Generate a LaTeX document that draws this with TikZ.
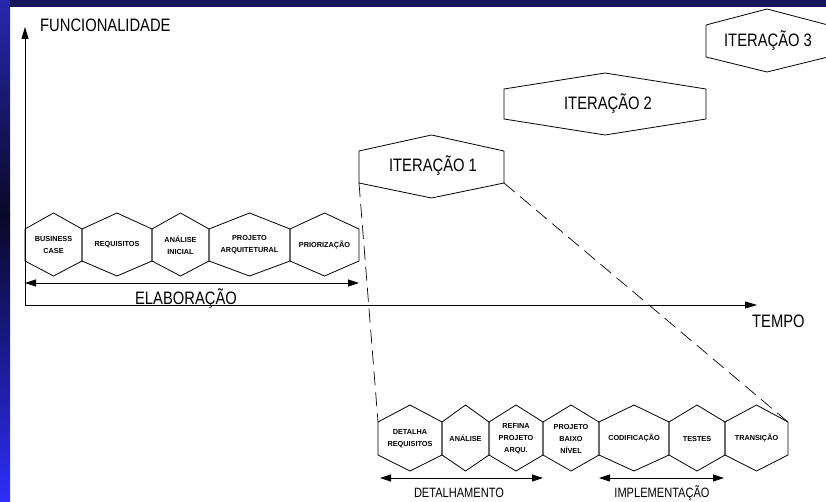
\documentclass[tikz,border=0pt]{standalone}
\usepackage{fontspec}
\setmainfont{Liberation Sans}
\newfontfamily\bigf[FakeStretch=0.82]{Liberation Sans}
\usetikzlibrary{arrows.meta}
\definecolor{navybar}{RGB}{22,22,88}
\definecolor{stripA}{RGB}{40,40,175}
\definecolor{stripB}{RGB}{8,8,40}
\definecolor{stripC}{RGB}{46,46,250}
\tikzset{
  hexline/.style={draw=black, line width=0.8pt, line join=miter},
  biglabel/.style={font=\bigf\fontsize{18}{20}\selectfont, inner sep=0pt, anchor=base},
  midlabel/.style={font=\bigf\fontsize{13.5}{15}\selectfont, inner sep=0pt, anchor=base},
  smalllabel/.style={font=\fontsize{7.3}{12}\selectfont\bfseries, align=center, inner sep=0pt},
  axisline/.style={line width=0.8pt, -{Triangle[length=12pt,width=7pt]}},
  spanline/.style={line width=0.8pt, {Triangle[length=11pt,width=7pt]}-{Triangle[length=11pt,width=7pt]}},
  linkline/.style={line width=0.7pt, dash pattern=on 14pt off 7pt},
}
% name, xl, xr, top vertex y, upper shoulder y, lower shoulder y, bottom vertex y, text
\newcommand{\hexcell}[8]{%
  \draw[hexline] (#2,#5) -- ({(#2+#3)/2},#4) -- (#3,#5) -- (#3,#6) -- ({(#2+#3)/2},#7) -- (#2,#6) -- cycle;
  \coordinate (#1-ul) at (#2,#5);
  \coordinate (#1-ur) at (#3,#5);
  \coordinate (#1-ll) at (#2,#6);
  \coordinate (#1-lr) at (#3,#6);
  \node[smalllabel] (#1) at ({(#2+#3)/2},{(#5+#6)/2}) {#8};
}
\begin{document}
\begin{tikzpicture}[x=1pt,y=-1pt]
\useasboundingbox (0,0) rectangle (826,502);
\fill[white] (0,0) rectangle (826,502);
% frame
\fill[navybar] (0,0) rectangle (826,7);
\shade[top color=stripA, bottom color=stripB] (0,0) rectangle (10,215);
\shade[top color=stripB, bottom color=stripC] (0,215) rectangle (10,502);

% axes
\coordinate (origin) at (25,305);
\coordinate (ytip) at (25,27);
\coordinate (xtip) at (757,305);
\draw[axisline] (origin) -- (ytip);
\draw[axisline] (origin) -- (xtip);
\node[biglabel, anchor=base west] (funcl) at (40,31.5) {FUNCIONALIDADE};
\node[biglabel, anchor=base west] (tempol) at (752,327) {TEMPO};

% elaboration row
\hexcell{bc}{25}{82}{213}{229}{261}{276}{BUSINESS\\CASE}
\hexcell{req}{82}{152}{213}{229}{261}{276}{REQUISITOS}
\hexcell{ana}{152}{209}{213}{229}{261}{276}{ANÁLISE\\INICIAL}
\hexcell{arq}{209}{290}{213}{229}{261}{276}{PROJETO\\ARQUITETURAL}
\hexcell{pri}{290}{359}{213}{229}{261}{276}{PRIORIZAÇÃO}
\coordinate (e1) at (25,283);
\coordinate (e2) at (359,283);
\draw[spanline] (e1) -- (e2);
\node[biglabel] (elab) at (186,304) {ELABORAÇÃO};

% iterations
\hexcell{itA}{359}{504}{135}{151}{183}{198}{}
\node[biglabel] (itAl) at (433,172) {ITERAÇÃO 1};
\hexcell{itB}{504}{706}{73}{89}{119}{135}{}
\node[biglabel] (itBl) at (608,110) {ITERAÇÃO 2};
\hexcell{itC}{706}{828}{9}{25}{57}{72}{}
\node[biglabel] (itCl) at (768,46.5) {ITERAÇÃO 3};

% detail row
\hexcell{det}{378}{442}{405}{422}{455}{471}{DETALHA\\REQUISITOS}
\hexcell{anl}{442}{489}{405}{422}{455}{471}{ANÁLISE}
\hexcell{ref}{489}{543}{405}{422}{455}{471}{REFINA\\PROJETO\\ARQU.}
\hexcell{pbn}{543}{599}{405}{422}{455}{471}{PROJETO\\BAIXO\\NÍVEL}
\hexcell{cod}{599}{669}{405}{422}{455}{471}{CODIFICAÇÃO}
\hexcell{tes}{669}{725}{405}{422}{455}{471}{TESTES}
\hexcell{tra}{725}{788}{405}{422}{455}{471}{TRANSIÇÃO}

% zoom links
\draw[linkline] (itA-ll) -- (det-ul);
\draw[linkline] (itA-lr) -- (tra-ur);

% phase spans
\coordinate (d1) at (380,478);
\coordinate (d2) at (543,478);
\coordinate (i1) at (599,478);
\coordinate (i2) at (724,478);
\draw[spanline] (d1) -- (d2);
\draw[spanline] (i1) -- (i2);
\node[midlabel] (detl) at (459,497) {DETALHAMENTO};
\node[midlabel] (impl) at (662,497) {IMPLEMENTAÇÃO};
\end{tikzpicture}
\end{document}
